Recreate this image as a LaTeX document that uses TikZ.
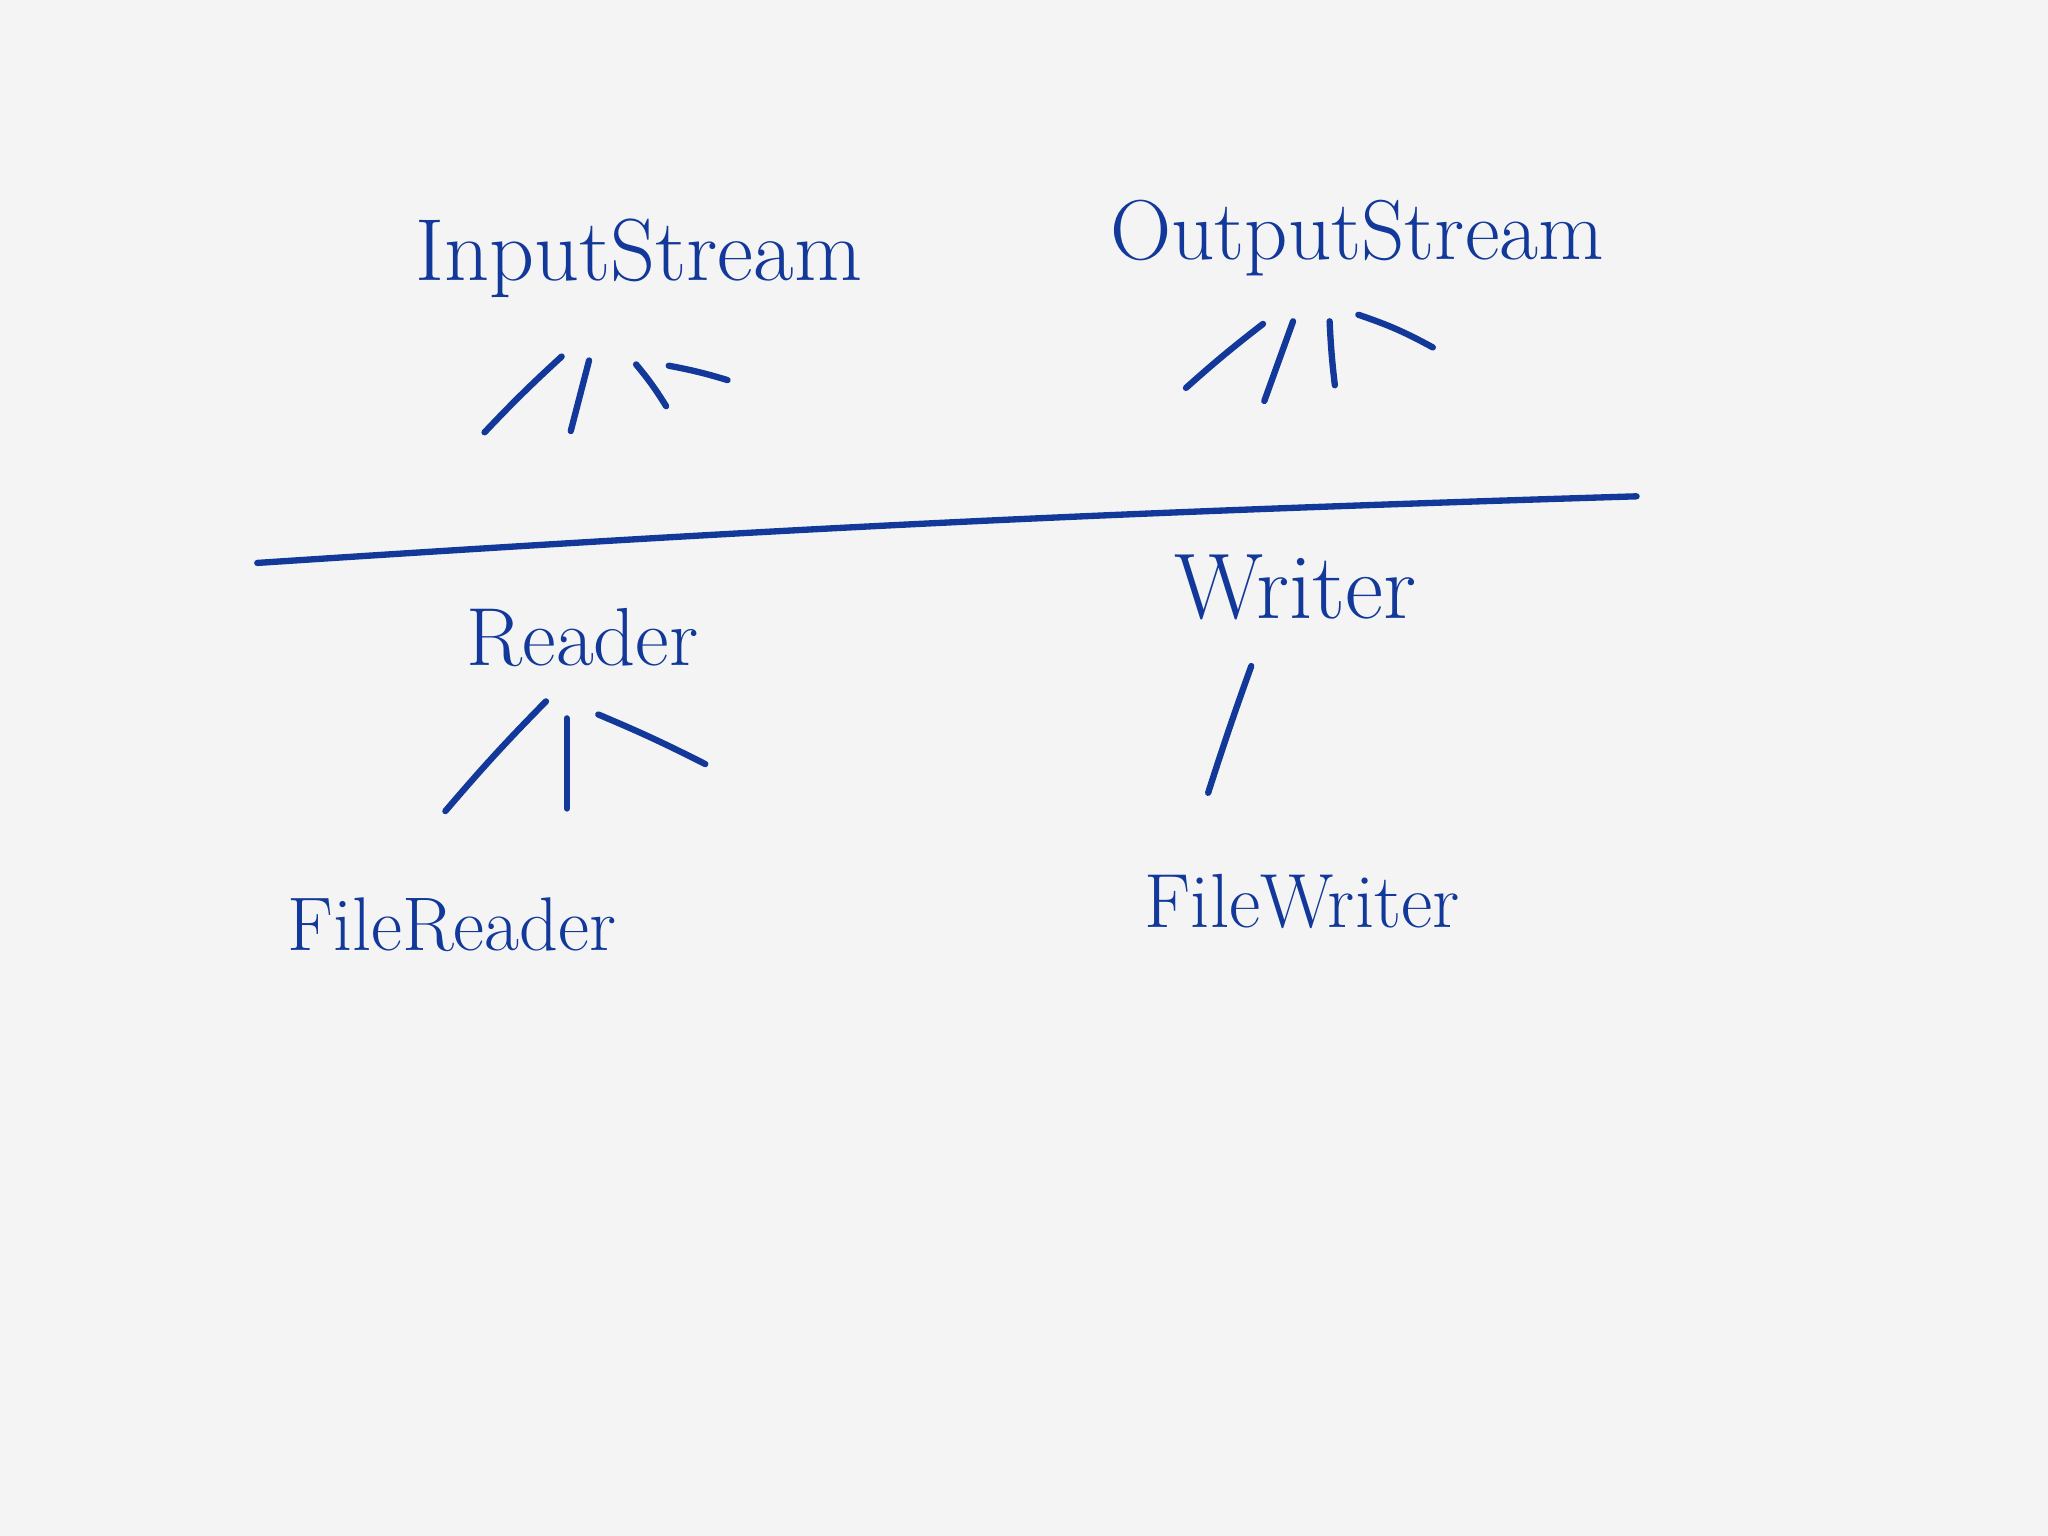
\documentclass[tikz,border=0pt]{standalone}
\usepackage{graphicx}
\definecolor{ink}{HTML}{12389A}
\definecolor{paper}{HTML}{F4F4F4}
\tikzset{
  pen/.style={draw=ink, line width=1.8pt, line cap=round, line join=round},
  word/.style={text=ink, inner sep=0pt, font=\fontsize{30}{36}\selectfont}
}
\begin{document}
\begin{tikzpicture}[x=0.01306cm, y=-0.01306cm]
\fill[paper] (0,0) rectangle (1568,1176);
\useasboundingbox (0,0) rectangle (1568,1176);

% labels
\node[word] (in)  at (489,198) {\resizebox{4.47cm}{!}{InputStream}};
\node[word] (out) at (1039,182) {\resizebox{4.94cm}{!}{OutputStream}};
\node[word] (rd)  at (446,488) {\resizebox{2.32cm}{!}{Reader}};
\node[word] (wr)  at (992,450) {\resizebox{2.42cm}{!}{Writer}};
\node[word] (frd) at (346,708) {\resizebox{3.29cm}{!}{FileReader}};
\node[word] (fwr) at (997,690) {\resizebox{3.15cm}{!}{FileWriter}};

% strokes under InputStream
\coordinate (i1a) at (371,331); \coordinate (i1b) at (430,273);
\coordinate (i2a) at (437,330); \coordinate (i2b) at (451,276);
\coordinate (i3a) at (487,279); \coordinate (i3b) at (510,311);
\coordinate (i4a) at (512,280); \coordinate (i4b) at (557,291);
\draw[pen] (i1a) to[bend left=2] (i1b);
\draw[pen] (i2a) -- (i2b);
\draw[pen] (i3a) to[bend left=4] (i3b);
\draw[pen] (i4a) to[bend left=3] (i4b);

% strokes under OutputStream
\coordinate (o1a) at (908,297); \coordinate (o1b) at (967,248);
\coordinate (o2a) at (968,307); \coordinate (o2b) at (990,246);
\coordinate (o3a) at (1018,246); \coordinate (o3b) at (1022,295);
\coordinate (o4a) at (1040,241); \coordinate (o4b) at (1097,266);
\draw[pen] (o1a) to[bend left=2] (o1b);
\draw[pen] (o2a) -- (o2b);
\draw[pen] (o3a) to[bend right=2] (o3b);
\draw[pen] (o4a) to[bend left=5] (o4b);

% dividing line
\coordinate (la) at (197,431); \coordinate (lb) at (1253,380);
\draw[pen] (la) to[bend left=1] (lb);

% strokes under Reader
\coordinate (r1a) at (341,621); \coordinate (r1b) at (418,537);
\coordinate (r2a) at (434,619); \coordinate (r2b) at (434,550);
\coordinate (r3a) at (458,547); \coordinate (r3b) at (540,585);
\draw[pen] (r1a) to[bend left=2] (r1b);
\draw[pen] (r2a) -- (r2b);
\draw[pen] (r3a) to[bend left=2] (r3b);

% stroke under Writer
\coordinate (w1a) at (925,607); \coordinate (w1b) at (958,510);
\draw[pen] (w1a) to[bend left=1] (w1b);
\end{tikzpicture}
\end{document}
